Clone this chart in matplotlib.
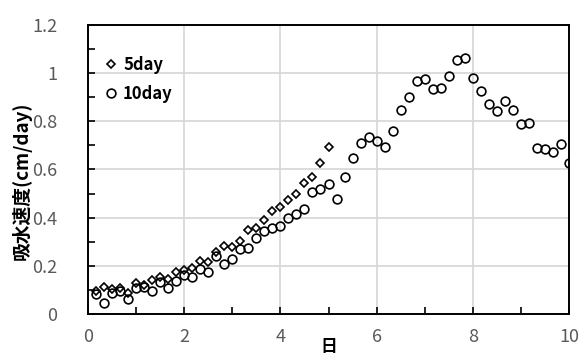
import numpy as np
import matplotlib
matplotlib.use("Agg")
import matplotlib.pyplot as plt
from matplotlib.ticker import MultipleLocator

plt.rcParams['font.family'] = ['Noto Sans CJK JP', 'DejaVu Sans']

# sampling every 4 hours (1/6 day)
days_5 = [i / 6 for i in range(1, 31)]
days_10 = [i / 6 for i in range(1, 61)]

rate_5day = [0.097, 0.111, 0.102, 0.107, 0.088, 0.130, 0.120, 0.141, 0.152, 0.144,
             0.173, 0.183, 0.190, 0.220, 0.214, 0.259, 0.283, 0.277, 0.304, 0.349,
             0.358, 0.390, 0.429, 0.445, 0.473, 0.498, 0.542, 0.567, 0.629, 0.692]

rate_10day = [0.082, 0.047, 0.086, 0.097, 0.061, 0.110, 0.113, 0.095, 0.134, 0.107,
              0.137, 0.162, 0.155, 0.185, 0.176, 0.241, 0.206, 0.228, 0.268, 0.273,
              0.314, 0.344, 0.358, 0.366, 0.397, 0.415, 0.436, 0.507, 0.521, 0.538,
              0.477, 0.570, 0.646, 0.712, 0.733, 0.719, 0.694, 0.761, 0.846, 0.899,
              0.967, 0.974, 0.936, 0.940, 0.990, 1.054, 1.061, 0.981, 0.927, 0.871,
              0.842, 0.884, 0.849, 0.791, 0.794, 0.690, 0.685, 0.671, 0.705, 0.628]

labels = ['5day', '10day']

fig = plt.figure(figsize=(5.8, 3.61), dpi=100)
ax = fig.add_axes([88 / 580, 1 - 314 / 361, (569 - 88) / 580, (314 - 25) / 361])

ax.plot(days_5, rate_5day, linestyle='none', marker='D', markersize=4.2,
        markerfacecolor='none', markeredgecolor='black', markeredgewidth=1.2,
        label=labels[0])
ax.plot(days_10, rate_10day, linestyle='none', marker='o', markersize=6.3,
        markerfacecolor='none', markeredgecolor='black', markeredgewidth=1.2,
        label=labels[1])

ax.set_xlim(0, 10)
ax.set_ylim(0, 1.2)
ax.xaxis.set_major_locator(MultipleLocator(2))
ax.xaxis.set_minor_locator(MultipleLocator(1))
ax.yaxis.set_major_locator(MultipleLocator(0.2))
ax.yaxis.set_minor_locator(MultipleLocator(0.1))
ax.yaxis.set_major_formatter(plt.FuncFormatter(lambda v, p: f"{v:g}"))

ax.grid(True, which='major', color='#d9d9d9', linewidth=1.3)
ax.set_axisbelow(True)
for s in ax.spines.values():
    s.set_linewidth(1.4)
    s.set_color('black')

ax.tick_params(which='both', direction='in', color='black', width=1.2,
               labelcolor='#595959', labelsize=13)
ax.tick_params(which='major', length=5)
ax.tick_params(which='minor', length=5)
ax.tick_params(axis='y', pad=22)
ax.tick_params(axis='x', pad=10)

ax.set_xlabel('日', fontsize=12, fontweight='bold', labelpad=-6)
ax.set_ylabel('吸水速度(cm/day)', fontsize=13.5, fontweight='bold')
ax.yaxis.set_label_coords(-0.117, 0.46)

leg = ax.legend(loc='upper left', bbox_to_anchor=(-0.005, 0.95), frameon=False,
                fontsize=12, handletextpad=0.15, labelspacing=0.65,
                handlelength=1.1, borderaxespad=0.6)
for t in leg.get_texts():
    t.set_fontweight('bold')

fig.savefig('out.png', dpi=100)
